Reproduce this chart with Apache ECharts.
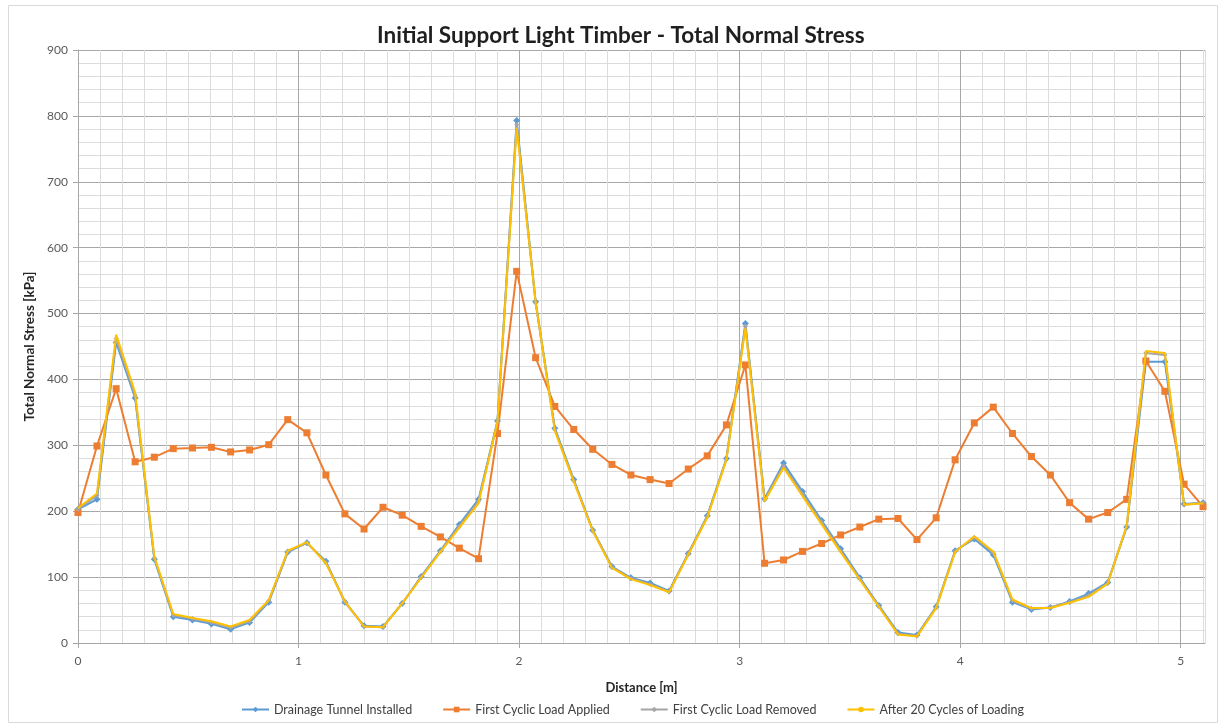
<!DOCTYPE html>
<html>
<head>
<meta charset="utf-8">
<script src="https://cdn.jsdelivr.net/npm/echarts@6/dist/echarts.min.js"></script>
<style>
html,body{margin:0;padding:0;background:#fff;}
#chart{width:1225px;height:727px;}
</style>
</head>
<body>
<div id="chart"></div>
<script>
// Distance along the section [m]
const distance = [0,0.086,0.173,0.259,0.346,0.432,0.519,0.605,0.692,0.778,0.865,0.951,1.038,1.124,1.210,1.297,1.383,1.470,1.556,1.643,1.729,1.816,1.902,1.989,2.075,2.162,2.248,2.334,2.421,2.507,2.594,2.680,2.767,2.853,2.940,3.026,3.113,3.199,3.285,3.372,3.458,3.545,3.631,3.718,3.804,3.891,3.977,4.064,4.150,4.237,4.323,4.409,4.496,4.582,4.669,4.755,4.842,4.928,5.015,5.101];

const drainageTunnelInstalled = [203,218,456,372,127,40,35,29,21,31, 62,138,152,124,62,26,25,60,101,140, 180,218,337,793,518,326,248,171,116,99, 91,79,136,193,280,485,219,273,230,186, 143,99,57,16,12,55,140,158,134,62, 51,54,63,75,92,176,427,427,211,213];

const firstCyclicLoadApplied = [198,299,386,275,282,295,296,297,290,293, 301,339,319,255,196,173,206,194,177,161, 144,128,318,564,433,359,324,294,271,255, 248,242,264,284,331,422,121,126,139,151, 164,176,188,189,157,190,278,334,358,318, 283,255,213,188,198,218,428,382,241,207];

const firstCyclicLoadRemoved = [203,224,462,376,129,42,37,31,23,33, 64,139,152,122,63,25,24,60,100,139, 177,215,336,787,516,324,246,171,115,98, 89,78,135,192,279,481,217,269,226,183, 140,97,56,14,11,54,139,160,137,64, 52,54,62,72,91,177,440,437,210,213];

const after20Cycles = [205,227,468,380,131,44,38,33,25,35, 65,140,153,121,63,25,24,60,99,138, 175,212,335,782,518,322,245,170,114,97, 88,77,134,190,278,478,215,266,223,180, 138,96,55,13,10,53,138,162,139,66, 53,53,61,70,90,178,443,440,210,212];

const seriesNames = ['Drainage Tunnel Installed','First Cyclic Load Applied','First Cyclic Load Removed','After 20 Cycles of Loading'];

function pairs(ys){ return distance.map((x,i)=>[x, ys[i]]); }

const chart = echarts.init(document.getElementById('chart'), null, {renderer:'canvas'});
const font = 'Lato, "Open Sans", sans-serif';

chart.setOption({
  backgroundColor:'#ffffff',
  animation:false,
  title:{
    text:'Initial Support Light Timber - Total Normal Stress',
    left:372, top:19,
    textStyle:{fontFamily:font, fontSize:22.5, fontWeight:'bold', color:'#1f1f1f'}
  },
  graphic:[{type:'rect', shape:{x:8.5,y:5.5,width:1209,height:717}, style:{fill:null, stroke:'#d9d9d9', lineWidth:1}, silent:true}],
  legend:{
    bottom:6, left:236, itemWidth:27, itemHeight:7, itemGap:30,
    textStyle:{fontFamily:font, fontSize:12.5, color:'#404040'},
    data:seriesNames
  },
  grid:{left:78, right:20, top:50, bottom:84, containLabel:false},
  xAxis:[{
    type:'value', min:0, max:5.11, interval:1,
    name:'Distance [m]', nameLocation:'middle', nameGap:38,
    nameTextStyle:{fontFamily:font, fontSize:13, fontWeight:'bold', color:'#262626'},
    axisLine:{show:true, lineStyle:{color:'#a6a6a6'}},
    axisTick:{show:true, length:5, lineStyle:{color:'#a6a6a6'}},
    axisLabel:{fontFamily:font, fontSize:12, color:'#595959', margin:12, showMaxLabel:false},
    splitLine:{show:true, showMaxLine:false, lineStyle:{color:'#a8a8a8', width:1}},
    z:3
  },{
    type:'value', min:0, max:5.11, interval:0.1, position:'bottom',
    axisLine:{show:false}, axisTick:{show:false}, axisLabel:{show:false},
    splitLine:{show:true, lineStyle:{color:'#dcdcdc', width:1}}
  }],
  yAxis:{
    type:'value', min:0, max:900, interval:100,
    name:'Total Normal Stress [kPa]', nameLocation:'middle', nameGap:38, nameRotate:90,
    nameTextStyle:{fontFamily:font, fontSize:13.5, fontWeight:'bold', color:'#262626'},
    axisLine:{show:true, lineStyle:{color:'#a6a6a6'}},
    axisTick:{show:true, length:5, lineStyle:{color:'#a6a6a6'}},
    axisLabel:{fontFamily:font, fontSize:12, color:'#595959', margin:10},
    splitLine:{show:true, lineStyle:{color:'#a8a8a8', width:1}},
    minorTick:{show:false, splitNumber:5},
    minorSplitLine:{show:true, lineStyle:{color:'#dcdcdc', width:1}}
  },
  series:[
    {name:seriesNames[0], type:'line', data:pairs(drainageTunnelInstalled), xAxisIndex:0,
     symbol:'diamond', symbolSize:7, showAllSymbol:true,
     itemStyle:{color:'#5B9BD5'}, lineStyle:{color:'#5B9BD5', width:2}, z:4},
    {name:seriesNames[1], type:'line', data:pairs(firstCyclicLoadApplied), xAxisIndex:0,
     symbol:'rect', symbolSize:7, showAllSymbol:true,
     itemStyle:{color:'#ED7D31'}, lineStyle:{color:'#ED7D31', width:2}, z:5},
    {name:seriesNames[2], type:'line', data:pairs(firstCyclicLoadRemoved), xAxisIndex:0,
     symbol:'diamond', symbolSize:5, showAllSymbol:true,
     itemStyle:{color:'#A5A5A5'}, lineStyle:{color:'#A5A5A5', width:2}, z:6},
    {name:seriesNames[3], type:'line', data:pairs(after20Cycles), xAxisIndex:0,
     symbol:'none', showSymbol:false,
     itemStyle:{color:'#FFC000'}, lineStyle:{color:'#FFC000', width:2}, z:7}
  ]
});
</script>
</body>
</html>
